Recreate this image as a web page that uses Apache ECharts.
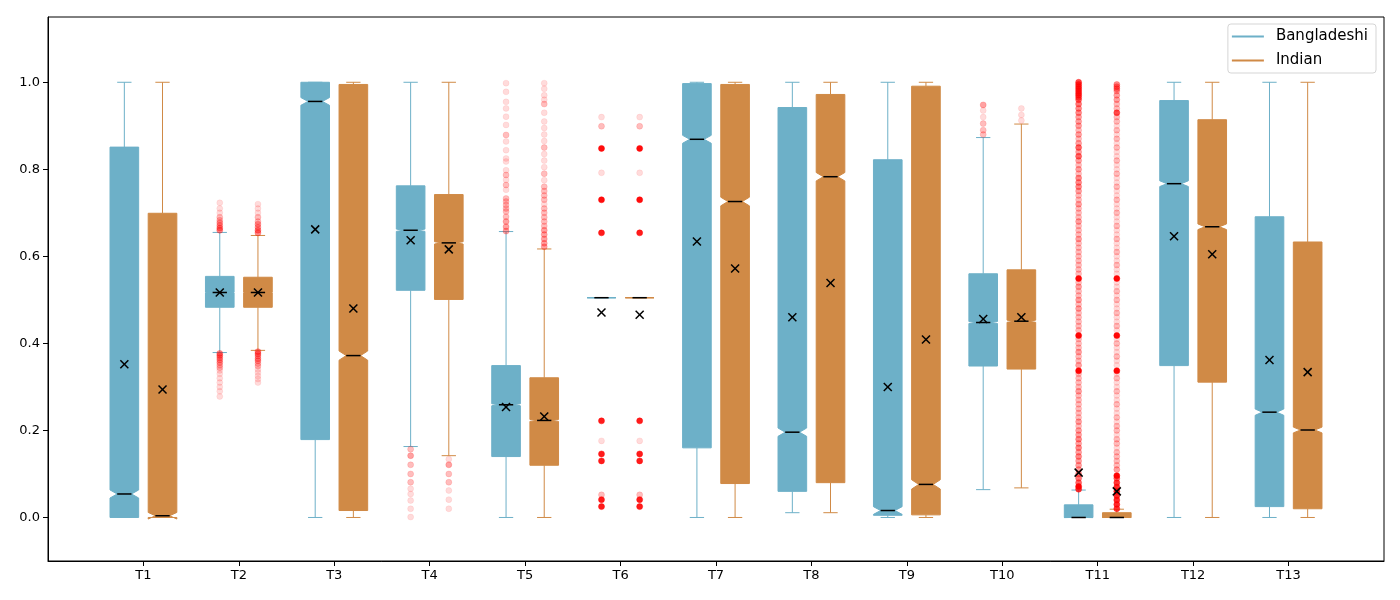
<!DOCTYPE html>
<html>
<head>
<meta charset="utf-8">
<script src="https://cdn.jsdelivr.net/npm/echarts@6/dist/echarts.min.js"></script>
<style>
  html, body { margin: 0; padding: 0; background: #fff; }
  #chart { width: 1400px; height: 600px; }
</style>
</head>
<body>
<div id="chart"></div>
<script>
const categories = ['T1', 'T2', 'T3', 'T4', 'T5', 'T6', 'T7', 'T8', 'T9', 'T10', 'T11', 'T12', 'T13'];
const yTicks = [0, 0.2, 0.4, 0.6, 0.8, 1.0];

// Bangladeshi box stats
const bdWhiskerLow  = [0, 0.379, 0, 0.163, 0, 0.505, 0, 0.011, 0, 0.064, 0, 0, 0];
const bdQ1          = [0, 0.483, 0.179, 0.522, 0.140, 0.505, 0.160, 0.060, 0.005, 0.348, 0, 0.349, 0.025];
const bdMedian      = [0.054, 0.517, 0.956, 0.660, 0.259, 0.505, 0.869, 0.196, 0.016, 0.448, 0, 0.767, 0.242];
const bdQ3          = [0.851, 0.554, 1.0, 0.762, 0.349, 0.505, 0.997, 0.942, 0.822, 0.560, 0.029, 0.958, 0.691];
const bdWhiskerHigh = [1.0, 0.655, 1.0, 1.0, 0.657, 0.505, 1.0, 1.0, 1.0, 0.873, 0.063, 1.0, 1.0];
const bdMean        = [0.352, 0.517, 0.662, 0.637, 0.254, 0.471, 0.634, 0.460, 0.300, 0.456, 0.103, 0.646, 0.362];

// Indian box stats
const inWhiskerLow  = [0, 0.384, 0, 0.142, 0, 0.505, 0, 0.011, 0, 0.068, 0, 0, 0];
const inQ1          = [0, 0.483, 0.016, 0.501, 0.120, 0.505, 0.078, 0.080, 0.006, 0.341, 0, 0.311, 0.020];
const inMedian      = [0.004, 0.517, 0.372, 0.631, 0.223, 0.505, 0.726, 0.783, 0.076, 0.451, 0, 0.668, 0.201];
const inQ3          = [0.699, 0.552, 0.995, 0.742, 0.321, 0.505, 0.995, 0.972, 0.991, 0.569, 0.011, 0.914, 0.633];
const inWhiskerHigh = [1.0, 0.648, 1.0, 1.0, 0.617, 0.505, 1.0, 1.0, 1.0, 0.904, 0.019, 1.0, 1.0];
const inMean        = [0.294, 0.517, 0.480, 0.616, 0.232, 0.466, 0.572, 0.539, 0.409, 0.460, 0.060, 0.605, 0.334];

// outliers per category: [value, how many points overlap there]
const t6Outliers = [[0.920, 1], [0.899, 2], [0.848, 20], [0.792, 1], [0.730, 20], [0.654, 15], [0.222, 15],
  [0.176, 1], [0.146, 15], [0.130, 15], [0.052, 2], [0.041, 15], [0.025, 15]];

const bdOutliers = [
  [],
  [[0.723, 1], [0.71, 1], [0.70, 1], [0.69, 2], [0.683, 2], [0.677, 3], [0.671, 3], [0.665, 4], [0.66, 4],
   [0.377, 4], [0.372, 4], [0.367, 3], [0.362, 3], [0.356, 3], [0.35, 2], [0.344, 2], [0.338, 1], [0.33, 1],
   [0.32, 1], [0.31, 1], [0.30, 1], [0.29, 1], [0.278, 1]],
  [],
  [[0.157, 2], [0.142, 3], [0.121, 2], [0.100, 2], [0.081, 2], [0.066, 1], [0.054, 1], [0.039, 1], [0.020, 1], [0.001, 1]],
  [[0.998, 1], [0.978, 1], [0.955, 1], [0.94, 1], [0.921, 1], [0.902, 1], [0.879, 2], [0.864, 1], [0.844, 1],
   [0.825, 1], [0.818, 1], [0.798, 1], [0.787, 2], [0.776, 1], [0.764, 2], [0.753, 1], [0.733, 2], [0.726, 2],
   [0.718, 2], [0.71, 2], [0.703, 2], [0.691, 2], [0.68, 3], [0.668, 3], [0.658, 3]],
  t6Outliers,
  [], [], [],
  [[0.948, 3], [0.935, 1], [0.92, 1], [0.905, 2], [0.89, 2], [0.88, 2]],
  [[1.00, 8], [0.995, 8], [0.99, 8], [0.985, 8], [0.98, 8], [0.975, 8], [0.97, 8], [0.965, 6], [0.96, 6],
   [0.95, 5], [0.94, 4], [0.93, 4], [0.92, 3], [0.91, 3], [0.90, 3], [0.89, 2], [0.88, 3], [0.87, 2], [0.86, 3],
   [0.85, 6], [0.84, 3], [0.83, 6], [0.82, 3], [0.81, 2], [0.80, 3], [0.79, 2], [0.78, 4], [0.77, 4], [0.76, 4],
   [0.75, 3], [0.74, 2], [0.73, 2], [0.72, 3], [0.71, 2], [0.70, 2], [0.69, 2], [0.68, 3], [0.67, 2], [0.66, 2],
   [0.65, 2], [0.64, 3], [0.63, 2], [0.62, 2], [0.61, 2], [0.60, 2], [0.59, 2], [0.58, 2], [0.57, 2], [0.56, 2],
   [0.549, 25], [0.54, 2], [0.53, 3], [0.52, 2], [0.51, 2], [0.50, 3], [0.49, 2], [0.48, 3], [0.47, 2], [0.46, 2],
   [0.45, 2], [0.44, 2], [0.43, 2], [0.418, 25], [0.41, 2], [0.40, 2], [0.39, 2], [0.38, 3], [0.37, 2], [0.36, 2],
   [0.35, 3], [0.337, 25], [0.33, 2], [0.32, 2], [0.31, 2], [0.30, 2], [0.29, 3], [0.28, 2], [0.27, 2], [0.26, 2],
   [0.25, 2], [0.24, 2], [0.23, 2], [0.22, 3], [0.21, 2], [0.20, 3], [0.19, 3], [0.18, 4], [0.17, 3], [0.16, 4],
   [0.15, 3], [0.14, 4], [0.13, 3], [0.12, 3], [0.11, 3], [0.10, 4], [0.09, 5], [0.08, 6], [0.071, 25], [0.065, 10]],
  [], []
];

const inOutliers = [
  [],
  [[0.72, 1], [0.71, 1], [0.70, 1], [0.69, 2], [0.68, 2], [0.674, 3], [0.667, 3], [0.66, 4], [0.654, 4],
   [0.381, 4], [0.376, 4], [0.371, 3], [0.365, 3], [0.36, 3], [0.354, 2], [0.348, 2], [0.34, 1], [0.333, 1],
   [0.325, 1], [0.318, 1], [0.31, 1]],
  [],
  [[0.134, 1], [0.121, 3], [0.100, 2], [0.081, 2], [0.062, 1], [0.041, 1], [0.020, 1]],
  [[0.998, 1], [0.985, 1], [0.97, 1], [0.96, 1], [0.95, 2], [0.93, 1], [0.91, 1], [0.895, 1], [0.88, 1],
   [0.865, 1], [0.85, 2], [0.835, 1], [0.82, 1], [0.805, 1], [0.79, 2], [0.775, 1], [0.76, 2], [0.75, 2],
   [0.74, 2], [0.73, 2], [0.72, 1], [0.71, 2], [0.70, 2], [0.69, 2], [0.68, 2], [0.67, 2], [0.66, 3], [0.65, 3],
   [0.64, 3], [0.63, 3], [0.622, 3]],
  t6Outliers,
  [], [], [],
  [[0.94, 1], [0.925, 1], [0.912, 1]],
  [[0.995, 4], [0.99, 4], [0.985, 4], [0.98, 3], [0.97, 3], [0.96, 3], [0.95, 2], [0.94, 2], [0.93, 8], [0.92, 2],
   [0.91, 2], [0.90, 1], [0.89, 2], [0.88, 1], [0.87, 2], [0.86, 1], [0.85, 2], [0.84, 1], [0.83, 1], [0.82, 2],
   [0.81, 1], [0.80, 1], [0.79, 2], [0.78, 1], [0.77, 1], [0.76, 2], [0.75, 1], [0.74, 1], [0.73, 2], [0.72, 1],
   [0.71, 1], [0.70, 2], [0.69, 1], [0.68, 1], [0.67, 2], [0.66, 1], [0.65, 1], [0.64, 2], [0.63, 1], [0.62, 1],
   [0.61, 2], [0.60, 1], [0.59, 1], [0.58, 2], [0.57, 1], [0.56, 1], [0.549, 25], [0.54, 1], [0.53, 1], [0.52, 2],
   [0.51, 1], [0.50, 2], [0.49, 1], [0.48, 1], [0.47, 2], [0.46, 1], [0.45, 1], [0.44, 2], [0.43, 1], [0.418, 25],
   [0.41, 1], [0.40, 2], [0.39, 1], [0.38, 1], [0.37, 2], [0.36, 1], [0.35, 1], [0.337, 25], [0.33, 1], [0.32, 2],
   [0.31, 1], [0.30, 1], [0.29, 2], [0.28, 1], [0.27, 1], [0.26, 2], [0.25, 1], [0.24, 1], [0.23, 2], [0.22, 1],
   [0.21, 2], [0.20, 2], [0.19, 1], [0.18, 2], [0.17, 2], [0.16, 1], [0.15, 2], [0.14, 2], [0.13, 2], [0.12, 2],
   [0.11, 3], [0.096, 25], [0.09, 6], [0.08, 10], [0.07, 12], [0.06, 12], [0.05, 12], [0.04, 12], [0.03, 12], [0.02, 10]],
  [], []
];

const BLUE = '#6db0c8';
const ORANGE = '#d08a46';
const OFFSET = 0.2;      // group offset from category centre
const BOX_HALF = 0.15;   // half box width
const CAP_HALF = 0.075;  // half cap / notch width
const SAMPLE_SIZE = 21000; // rough n used for the notch size (1.57*IQR/sqrt(n))
const FONT = 'DejaVu Sans';

function boxData(lo, q1, med, q3, hi, off) {
  return categories.map((c, i) => [i + 1 + off, lo[i], q1[i], med[i], q3[i], hi[i]]);
}

function meanData(means, off) {
  return categories.map((c, i) => [i + 1 + off, means[i]]);
}

function outlierData(groups, off) {
  const out = [];
  groups.forEach((list, i) => {
    list.forEach(([v, n]) => {
      out.push({ value: [i + 1 + off, v], itemStyle: { opacity: 1 - Math.pow(0.86, n) } });
    });
  });
  return out;
}

function seg(a, b, stroke, w) {
  return { type: 'line', shape: { x1: a[0], y1: a[1], x2: b[0], y2: b[1] }, style: { stroke: stroke, lineWidth: w } };
}

function renderBox(color) {
  return function (params, api) {
    const x = api.value(0);
    const lo = api.value(1), q1 = api.value(2), med = api.value(3), q3 = api.value(4), hi = api.value(5);
    const ci = 1.57 * (q3 - q1) / Math.sqrt(SAMPLE_SIZE);
    const P = (dx, v) => api.coord([x + dx, v]);
    const poly = [
      P(-BOX_HALF, q1), P(BOX_HALF, q1), P(BOX_HALF, med - ci), P(CAP_HALF, med),
      P(BOX_HALF, med + ci), P(BOX_HALF, q3), P(-BOX_HALF, q3), P(-BOX_HALF, med + ci),
      P(-CAP_HALF, med), P(-BOX_HALF, med - ci)
    ];
    return {
      type: 'group',
      children: [
        seg(P(0, q3), P(0, hi), color, 1),
        seg(P(0, q1), P(0, lo), color, 1),
        seg(P(-CAP_HALF, hi), P(CAP_HALF, hi), color, 1),
        seg(P(-CAP_HALF, lo), P(CAP_HALF, lo), color, 1),
        { type: 'polygon', shape: { points: poly }, style: { fill: color, stroke: color, lineWidth: 1 } },
        seg(P(-CAP_HALF, med), P(CAP_HALF, med), '#000', 1.5)
      ]
    };
  };
}

function renderMean(params, api) {
  const c = api.coord([api.value(0), api.value(1)]);
  const s = 4;
  return {
    type: 'group',
    children: [
      seg([c[0] - s, c[1] - s], [c[0] + s, c[1] + s], '#000', 1.5),
      seg([c[0] - s, c[1] + s], [c[0] + s, c[1] - s], '#000', 1.5)
    ]
  };
}

const chart = echarts.init(document.getElementById('chart'));

const option = {
  animation: false,
  backgroundColor: '#fff',
  textStyle: { fontFamily: FONT },
  grid: {
    left: 48, right: 16, top: 17, bottom: 39,
    show: true, borderColor: '#000', borderWidth: 1,
    outerBoundsMode: 'none'
  },
  legend: {
    data: ['Bangladeshi', 'Indian'],
    right: 24, top: 24,
    orient: 'vertical',
    icon: 'rect',
    itemWidth: 32, itemHeight: 2, itemGap: 9,
    padding: [5, 8, 5, 4],
    borderColor: '#d5d5d5', borderWidth: 1, borderRadius: 3,
    backgroundColor: 'rgba(255,255,255,0.8)',
    textStyle: { fontSize: 15, fontFamily: FONT, color: '#000', padding: [0, 0, 0, 7] }
  },
  xAxis: {
    type: 'value', min: 0, max: 14,
    splitLine: { show: false },
    axisLine: { show: true, onZero: false, lineStyle: { color: '#000' } },
    axisTick: { show: true, length: 5, customValues: categories.map((c, i) => i + 1), lineStyle: { color: '#000' } },
    axisLabel: {
      customValues: categories.map((c, i) => i + 1),
      formatter: v => categories[Math.round(v) - 1] || '',
      color: '#000', fontSize: 13, fontFamily: FONT, margin: 8
    }
  },
  yAxis: {
    type: 'value', min: -0.1, max: 1.15,
    splitLine: { show: false },
    axisLine: { show: true, onZero: false, lineStyle: { color: '#000' } },
    axisTick: { show: true, length: 5, customValues: yTicks, lineStyle: { color: '#000' } },
    axisLabel: {
      customValues: yTicks,
      formatter: v => v.toFixed(1),
      color: '#000', fontSize: 13, fontFamily: FONT, margin: 8
    }
  },
  series: [
    {
      name: 'Bangladeshi', type: 'custom', z: 2,
      itemStyle: { color: BLUE },
      renderItem: renderBox(BLUE),
      encode: { x: 0, y: [1, 2, 3, 4, 5] },
      data: boxData(bdWhiskerLow, bdQ1, bdMedian, bdQ3, bdWhiskerHigh, -OFFSET)
    },
    {
      name: 'Indian', type: 'custom', z: 2,
      itemStyle: { color: ORANGE },
      renderItem: renderBox(ORANGE),
      encode: { x: 0, y: [1, 2, 3, 4, 5] },
      data: boxData(inWhiskerLow, inQ1, inMedian, inQ3, inWhiskerHigh, OFFSET)
    },
    {
      name: 'Bangladeshi outliers', type: 'scatter', z: 3, silent: true,
      symbol: 'circle', symbolSize: 6,
      itemStyle: { color: '#ff0000', borderColor: '#ff0000', borderWidth: 0.5 },
      data: outlierData(bdOutliers, -OFFSET)
    },
    {
      name: 'Indian outliers', type: 'scatter', z: 3, silent: true,
      symbol: 'circle', symbolSize: 6,
      itemStyle: { color: '#ff0000', borderColor: '#ff0000', borderWidth: 0.5 },
      data: outlierData(inOutliers, OFFSET)
    },
    {
      name: 'Bangladeshi mean', type: 'custom', z: 4, silent: true,
      renderItem: renderMean,
      encode: { x: 0, y: 1 },
      data: meanData(bdMean, -OFFSET)
    },
    {
      name: 'Indian mean', type: 'custom', z: 4, silent: true,
      renderItem: renderMean,
      encode: { x: 0, y: 1 },
      data: meanData(inMean, OFFSET)
    }
  ]
};

chart.setOption(option);
</script>
</body>
</html>
